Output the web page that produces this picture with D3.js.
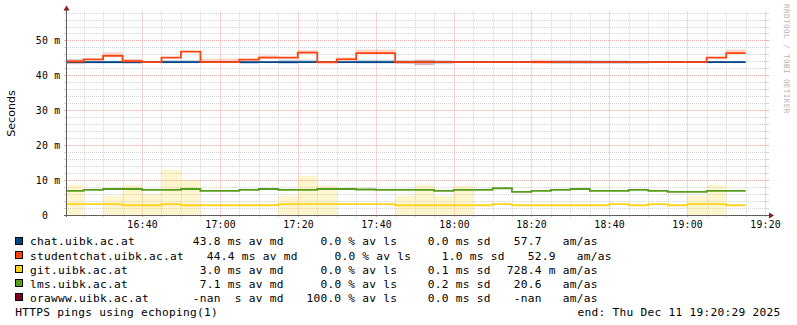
<!DOCTYPE html>
<html>
<head>
<meta charset="utf-8">
<title>HTTPS pings</title>
<script src="https://cdn.jsdelivr.net/npm/d3@7"></script>
<style>
  html, body { margin: 0; padding: 0; background: #ffffff; }
  svg { display: block; }
  text { white-space: pre; }
</style>
</head>
<body>
<svg id="chart" width="797" height="325"></svg>
<script>
// ---- time frame and axes ----
const graphStart = "16:20:29";
const graphEnd = "19:20:29";
const firstSlot = "16:20:00";
const slotMinutes = 5;
const yMaxMs = 58.3;
const yTickValues = [0, 10, 20, 30, 40, 50];
const xTickLabels = ["16:40", "17:00", "17:20", "17:40", "18:00", "18:20", "18:40", "19:00", "19:20"];

// ---- hosts ----
const hostNames = ["chat.uibk.ac.at", "studentchat.uibk.ac.at", "git.uibk.ac.at", "lms.uibk.ac.at", "orawww.uibk.ac.at"];
const hostColors = ["#004586", "#ff420e", "#ffd320", "#579d1c", "#7e0021"];

// ---- per 5-minute medians (ms) and smoke bands [low, high] (ms) ----
const chatMedian = [43.8, 43.8, 43.8, 43.8, 43.8, 43.8, 43.8, 43.8, 43.8, 43.8,
                    43.8, 43.8, 43.8, 43.8, 43.8, 43.8, 43.8, 43.8, 43.8, 43.8,
                    43.8, 43.8, 43.8, 43.8, 43.8, 43.8, 43.8, 43.8, 43.8, 43.8,
                    43.8, 43.8, 43.8, 43.8, 43.8];
const chatBandLow  = [43.2, 43.4, 43.4, 43.3, null, 43.5, 43.5, null, null, 43.3,
                      null, 43.3, 43.8, null, null, 43.4, 43.4, 43.3, 42.9, 43.2,
                      43.6, 43.6, null, null, null, 43.3, 43.3, 43.3, 43.3, 43.3,
                      null, null, null, 43.6, 43.6];
const chatBandHigh = [44.6, 44.2, 44.2, 44.5, null, 44.4, 44.4, null, null, 44.0,
                      null, 44.5, 44.5, null, null, 44.5, 44.5, 44.3, 44.5, 44.3,
                      44.1, 44.1, null, null, null, 44.3, 44.3, 44.3, 44.3, 43.9,
                      null, null, null, 44.1, 44.1];

const studentMedian = [44.0, 44.6, 45.6, 44.1, 43.8, 45.1, 46.8, 43.8, 43.8, 44.5,
                       45.1, 45.1, 46.5, 43.8, 44.6, 46.4, 46.4, 43.8, 43.8, 43.8,
                       43.8, 43.8, 43.8, 43.8, 43.8, 43.8, 43.8, 43.8, 43.8, 43.8,
                       43.8, 43.8, 43.8, 45.1, 46.4];
const studentBandLow  = [43.4, null, 45.6, 43.6, null, null, null, 43.6, 43.6, null,
                         45.1, null, 46.5, 43.2, 44.5, 46.4, 46.4, 43.4, 43.0, null,
                         null, null, null, null, 43.3, 43.5, 43.5, null, null, null,
                         null, null, null, null, 46.4];
const studentBandHigh = [44.6, null, 46.6, 44.7, null, null, null, 44.8, 44.8, null,
                         45.7, null, 47.2, 43.9, 45.2, 47.4, 47.4, 44.2, 44.5, null,
                         null, null, null, null, 44.5, 44.2, 44.2, null, null, null,
                         null, null, null, null, 47.4];

const gitMedian = [3.1, 3.1, 3.1, 2.8, 2.8, 3.1, 2.8, 2.8, 2.8, 2.8,
                   2.8, 3.1, 3.1, 3.1, 3.1, 3.1, 3.1, 2.8, 2.8, 2.8,
                   2.8, 2.8, 3.1, 2.8, 2.8, 2.8, 2.8, 2.8, 3.1, 2.8,
                   3.1, 2.8, 3.1, 3.1, 2.8];
const gitBandLow  = [0, null, 0, 0, 0, 0, 0, null, null, null,
                     null, 0, 0, 0, null, null, null, 0, 0, 0,
                     0, null, null, null, null, null, null, null, null, null,
                     null, null, 0, 0, null];
const gitBandHigh = [8.6, null, 5.5, 8.6, 6.0, 12.9, 10.0, null, null, null,
                     null, 5.5, 11.2, 8.4, null, null, null, 5.5, 8.6, 5.5,
                     8.3, null, null, null, null, null, null, null, null, null,
                     null, null, 5.5, 8.6, null];

const lmsMedian = [6.9, 7.2, 7.45, 7.45, 7.2, 7.2, 7.45, 6.9, 6.9, 7.2,
                   7.45, 7.2, 7.2, 7.45, 7.45, 7.3, 7.2, 7.2, 7.2, 6.9,
                   7.2, 7.2, 7.66, 6.6, 6.9, 7.2, 7.45, 6.9, 6.9, 7.2,
                   6.9, 6.6, 6.6, 6.9, 6.9];

// ---- legend statistics ----
const avgMedian = ["43.8 ms", "44.4 ms", "3.0 ms", "7.1 ms", "-nan\u00a0 s"];
const avgLoss = ["0.0 %", "0.0 %", "0.0 %", "0.0 %", "100.0 %"];
const medianSd = ["0.0 ms", "1.0 ms", "0.1 ms", "0.2 ms", "0.0 ms"];
const amAs = ["57.7", "52.9", "728.4 m", "20.6", "-nan"];
const footLeft = "HTTPS pings using echoping(1)";
const footRight = "end: Thu Dec 11 19:20:29 2025";
const yTitle = "Seconds";
const watermark = "RRDTOOL / TOBI OETIKER";

// ---- layout ----
const plot = { left: 66, right: 767, top: 11.5, bottom: 215 };
const mono = "'DejaVu Sans Mono', monospace";
const colMinor = "#d2d2d2";
const colMajor = "#eeaaaa";
const colAxis = "#5f5f5f";
const colArrow = "#8a1c1c";
const smokeAlpha = 0.22;

const at = (hms) => {
  const [h, m, s] = hms.split(":").map(Number);
  return new Date(2025, 11, 11, h, m, s || 0);
};

const svg = d3.select("#chart");
svg.append("rect").attr("width", 797).attr("height", 325).attr("fill", "#ffffff");

const x = d3.scaleTime().domain([at(graphStart), at(graphEnd)]).range([plot.left, plot.right]);
const y = d3.scaleLinear().domain([0, yMaxMs]).range([plot.bottom, plot.top]);

const slots = chatMedian.map((_, i) => d3.timeMinute.offset(at(firstSlot), i * slotMinutes));
const slotEnd = (t) => d3.timeMinute.offset(t, slotMinutes);

// ---- grid ----
const grid = svg.append("g");
const majorTimes = xTickLabels.map(at);
const isMajorTime = (t) => majorTimes.some(m => +m === +t);
const minorTimes = d3.timeMinute.every(5).range(at(graphStart), at(graphEnd)).filter(t => !isMajorTime(t));

const yMinor = d3.range(2, yMaxMs, 2).filter(v => v % 10 !== 0);
const yMajor = yTickValues.filter(v => v > 0);

function hLine(v, color) {
  const yy = Math.round(y(v)) + 0.5;
  grid.append("line").attr("x1", plot.left).attr("x2", plot.right).attr("y1", yy).attr("y2", yy)
    .attr("stroke", color).attr("stroke-width", 1).attr("stroke-dasharray", "1,1");
  grid.append("line").attr("x1", plot.left - 2).attr("x2", plot.left).attr("y1", yy).attr("y2", yy)
    .attr("stroke", color).attr("stroke-width", 1);
  grid.append("line").attr("x1", plot.right).attr("x2", plot.right + 2).attr("y1", yy).attr("y2", yy)
    .attr("stroke", color).attr("stroke-width", 1);
}
function vLine(t, color) {
  const xx = Math.round(x(t)) + 0.5;
  grid.append("line").attr("x1", xx).attr("x2", xx).attr("y1", plot.top).attr("y2", plot.bottom)
    .attr("stroke", color).attr("stroke-width", 1).attr("stroke-dasharray", "1,1");
  grid.append("line").attr("x1", xx).attr("x2", xx).attr("y1", plot.bottom).attr("y2", plot.bottom + 2)
    .attr("stroke", color).attr("stroke-width", 1);
}
yMinor.forEach(v => hLine(v, colMinor));
minorTimes.forEach(t => vLine(t, colMinor));
yMajor.forEach(v => hLine(v, colMajor));
majorTimes.forEach(t => vLine(t, colMajor));

// ---- data ----
svg.append("defs").append("clipPath").attr("id", "plotClip")
  .append("rect").attr("x", plot.left).attr("y", plot.top - 2)
  .attr("width", plot.right - plot.left).attr("height", plot.bottom - plot.top + 2);
const data = svg.append("g").attr("clip-path", "url(#plotClip)");

const series = [
  { median: chatMedian, lo: chatBandLow, hi: chatBandHigh, color: hostColors[0] },
  { median: studentMedian, lo: studentBandLow, hi: studentBandHigh, color: hostColors[1] },
  { median: gitMedian, lo: gitBandLow, hi: gitBandHigh, color: hostColors[2] },
  { median: lmsMedian, lo: null, hi: null, color: hostColors[3] }
];

const stepLine = d3.line().x(d => x(d[0])).y(d => y(d[1])).curve(d3.curveStepAfter);

series.forEach(s => {
  if (s.lo) {
    const band = slots.map((t, i) => ({ t, lo: s.lo[i], hi: s.hi[i] })).filter(d => d.lo !== null);
    data.append("g").selectAll("rect").data(band).join("rect")
      .attr("x", d => x(d.t))
      .attr("width", d => x(slotEnd(d.t)) - x(d.t))
      .attr("y", d => y(d.hi))
      .attr("height", d => y(d.lo) - y(d.hi))
      .attr("fill", s.color).attr("fill-opacity", smokeAlpha);
  }
  const pts = slots.map((t, i) => [t, s.median[i]]);
  pts.push([slotEnd(slots[slots.length - 1]), s.median[s.median.length - 1]]);
  data.append("path").attr("d", stepLine(pts))
    .attr("fill", "none").attr("stroke", s.color).attr("stroke-width", 1.8);
});

// ---- axes ----
const axes = svg.append("g");
axes.append("line").attr("x1", plot.left + 0.5).attr("x2", plot.left + 0.5)
  .attr("y1", plot.bottom + 2).attr("y2", plot.top - 3)
  .attr("stroke", colAxis).attr("stroke-width", 1);
axes.append("line").attr("x1", plot.left - 2).attr("x2", plot.right + 4)
  .attr("y1", plot.bottom + 0.5).attr("y2", plot.bottom + 0.5)
  .attr("stroke", colAxis).attr("stroke-width", 1);
axes.append("path")
  .attr("d", `M${plot.left + 0.5},${plot.top - 6} L${plot.left - 2.5},${plot.top - 1} L${plot.left + 3.5},${plot.top - 1} Z`)
  .attr("fill", colArrow);
axes.append("path")
  .attr("d", `M${plot.right + 7},${plot.bottom + 0.5} L${plot.right + 2},${plot.bottom - 2.5} L${plot.right + 2},${plot.bottom + 3.5} Z`)
  .attr("fill", colArrow);

// y tick labels: number right-aligned, SI unit after it
const yLab = svg.append("g").attr("font-family", mono).attr("font-size", 9.8)
  .attr("letter-spacing", 0.2).attr("fill", "#000");
yTickValues.forEach(v => {
  const yy = Math.round(y(v)) + 0.5 + 3.6;
  yLab.append("text").attr("x", 48).attr("y", yy).attr("text-anchor", "end").text(d3.format("d")(v));
  if (v !== 0) yLab.append("text").attr("x", 54.3).attr("y", yy).text("m");
});

// x tick labels
const xLab = svg.append("g").attr("font-family", mono).attr("font-size", 9.8)
  .attr("letter-spacing", 0.2).attr("fill", "#000");
xTickLabels.forEach(lbl => {
  xLab.append("text").attr("x", Math.round(x(at(lbl))) + 0.6).attr("y", 228)
    .attr("text-anchor", "middle").text(lbl);
});

// y axis title
svg.append("text")
  .attr("transform", "translate(15.2,113.5) rotate(-90)")
  .attr("text-anchor", "middle")
  .attr("font-family", "'DejaVu Sans', sans-serif").attr("font-size", 11.1)
  .attr("fill", "#000").text(yTitle);

// watermark
svg.append("text")
  .attr("transform", "translate(784.3,4) rotate(90)")
  .attr("font-family", mono).attr("font-size", 7.6).attr("letter-spacing", 0.42)
  .attr("fill", "#b4b4b4").text(watermark);

// ---- legend ----
const leg = svg.append("g").attr("font-family", mono).attr("font-size", 11.2)
  .attr("letter-spacing", 0.26).attr("fill", "#000");
const rowTop = (i) => 237 + 14.1 * i;
const colMd = [192.7, 206.7, 199.7, 199.7, 192.7];
const colLs = [320.4, 334.4, 320.4, 320.4, 306.4];
const colSd = [427.7, 441.7, 427.7, 427.7, 427.7];
const colAm = [513.7, 527.7, 506.7, 513.7, 513.7];
const colUnit = [562.7, 576.7, 562.7, 562.7, 562.7];

hostNames.forEach((name, i) => {
  const top = rowTop(i);
  const base = top + 8.4;
  leg.append("rect").attr("x", 15.5).attr("y", Math.round(top) + 0.5).attr("width", 7).attr("height", 7)
    .attr("fill", hostColors[i]).attr("stroke", "#000").attr("stroke-width", 1);
  leg.append("text").attr("x", 30).attr("y", base).text(name);
  leg.append("text").attr("x", colMd[i]).attr("y", base).text(`${avgMedian[i]} av md`);
  leg.append("text").attr("x", colLs[i]).attr("y", base).text(`${avgLoss[i]} av ls`);
  leg.append("text").attr("x", colSd[i]).attr("y", base).text(`${medianSd[i]} sd`);
  leg.append("text").attr("x", colAm[i]).attr("y", base).text(amAs[i]);
  leg.append("text").attr("x", colUnit[i]).attr("y", base).text("am/as");
});
const footBase = rowTop(5) + 8.2;
leg.append("text").attr("x", 15.2).attr("y", footBase).text(footLeft);
leg.append("text").attr("x", 577.6).attr("y", footBase).text(footRight);
</script>
</body>
</html>
